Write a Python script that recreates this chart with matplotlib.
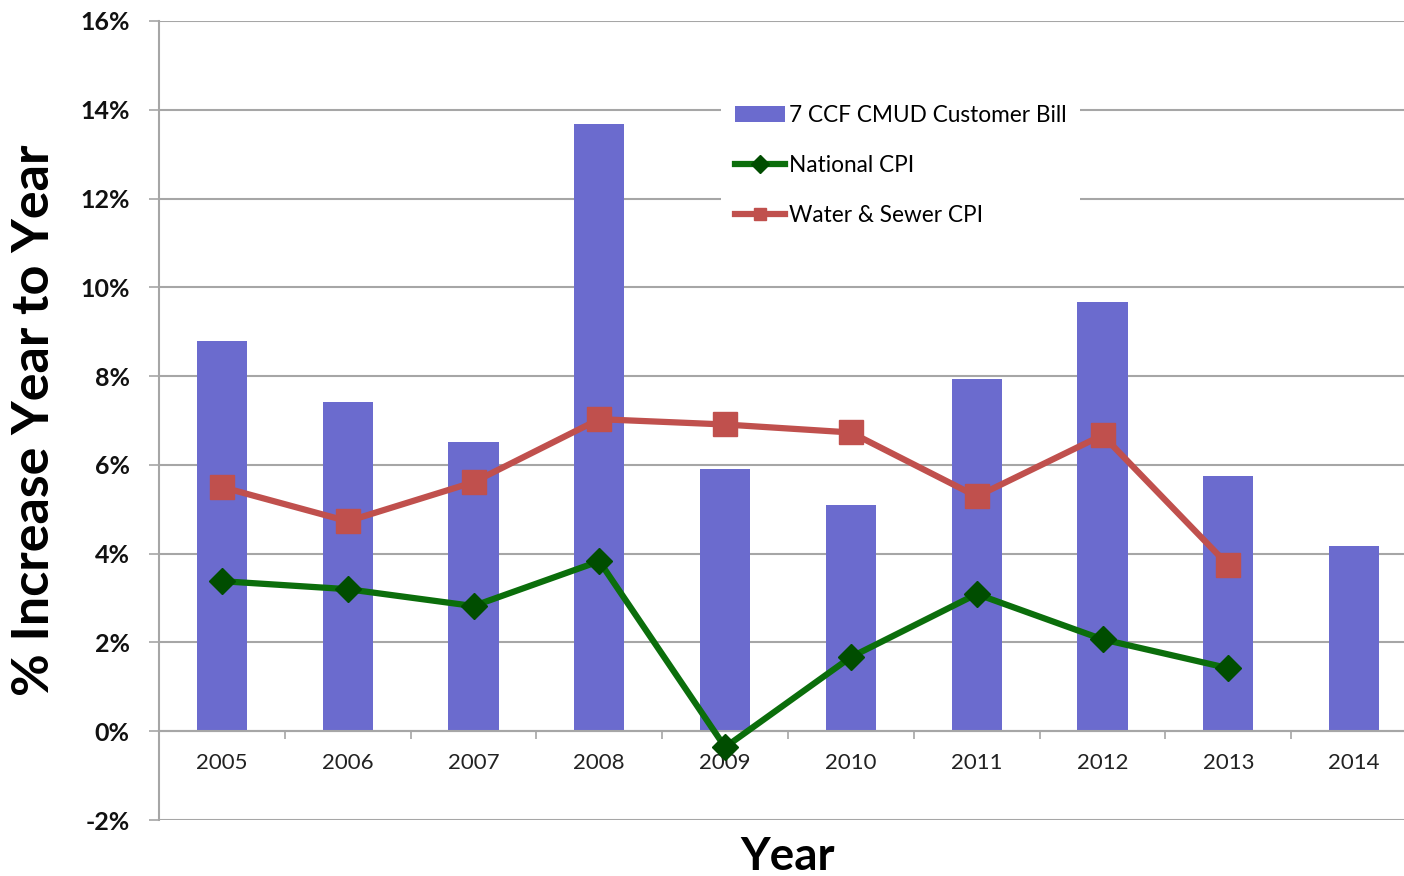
import matplotlib
matplotlib.use("Agg")
import matplotlib.pyplot as plt
from matplotlib.ticker import FixedLocator, FuncFormatter
import numpy as np

years = ["2005", "2006", "2007", "2008", "2009", "2010", "2011", "2012", "2013", "2014"]
customer_bill = [8.78, 7.41, 6.51, 13.69, 5.90, 5.09, 7.93, 9.68, 5.74, 4.17]
national_cpi = [3.38, 3.20, 2.82, 3.83, -0.36, 1.67, 3.09, 2.07, 1.42]
water_sewer_cpi = [5.50, 4.73, 5.61, 7.03, 6.91, 6.73, 5.29, 6.67, 3.74]
y_ticks = [-2, 0, 2, 4, 6, 8, 10, 12, 14, 16]

plt.rcParams["font.family"] = ["Lato", "DejaVu Sans"]

W, H = 1404, 876
fig = plt.figure(figsize=(W / 100, H / 100), dpi=100)
ax = fig.add_axes([159 / W, 1 - 820 / H, 1258 / W, 799 / H])
ax.set_axisbelow(True)

grid_col = "#a6a6a6"
x = np.arange(len(years))

bars = ax.bar(x, customer_bill, width=0.4, color="#6b6bce", zorder=2,
              label="7 CCF CMUD Customer Bill")
(l_nat,) = ax.plot(x[:len(national_cpi)], national_cpi, color="#0b6e0b", lw=4.5,
                   marker="D", markersize=13, markerfacecolor="#004d00",
                   markeredgecolor="#004d00", zorder=3, label="National CPI")
(l_ws,) = ax.plot(x[:len(water_sewer_cpi)], water_sewer_cpi, color="#c0504d", lw=4.5,
                  marker="s", markersize=17, markerfacecolor="#c0504d",
                  markeredgecolor="#c0504d", zorder=4, label="Water & Sewer CPI")

ax.set_xlim(-0.5, len(years) - 0.5)
ax.set_ylim(-2, 16)

ax.yaxis.set_major_locator(FixedLocator(y_ticks))
ax.yaxis.set_major_formatter(FuncFormatter(lambda v, p: f"{v:.0f}%"))
ax.yaxis.grid(True, color=grid_col, lw=1.5)
ax.tick_params(axis="y", length=7, width=1.2, color=grid_col, pad=14,
               labelsize=18, labelcolor="#111111")
for lab in ax.get_yticklabels():
    lab.set_fontweight("bold")

ax.set_xticks(x)
ax.set_xticklabels(years)
ax.set_xticks(np.arange(len(years) + 1) - 0.5, minor=True)
ax.tick_params(axis="x", which="major", length=0, pad=16, labelsize=16,
               labelcolor="#222222")
ax.tick_params(axis="x", which="minor", length=6, width=1.2, color=grid_col,
               direction="out")

ax.spines["top"].set_visible(False)
ax.spines["right"].set_visible(False)
ax.spines["left"].set_color(grid_col)
ax.spines["left"].set_linewidth(1.5)
ax.spines["bottom"].set_position(("data", 0))
ax.spines["bottom"].set_color(grid_col)
ax.spines["bottom"].set_linewidth(1.5)

ax.set_ylabel("% Increase Year to Year", fontsize=37.5, fontweight="bold",
              color="#000000", va="center")
ax.yaxis.set_label_coords(-0.0986, 0.5)
ax.set_xlabel("Year", fontsize=33, fontweight="bold", color="#000000",
              va="center")
ax.xaxis.set_label_coords(0.5, -0.046)

leg = ax.legend(handles=[bars, l_nat, l_ws],
                loc="upper left", bbox_to_anchor=(710 / W, 1 - 80 / H),
                bbox_transform=fig.transFigure, fontsize=16.3, frameon=True,
                facecolor="white", edgecolor="none", framealpha=1,
                handlelength=2.2, handletextpad=0.2, labelspacing=1.29,
                borderpad=0.6, fancybox=False)
for h in leg.legend_handles[1:]:
    h.set_markersize(9)
leg.set_zorder(5)

fig.savefig("out.png", dpi=100, facecolor="white")
